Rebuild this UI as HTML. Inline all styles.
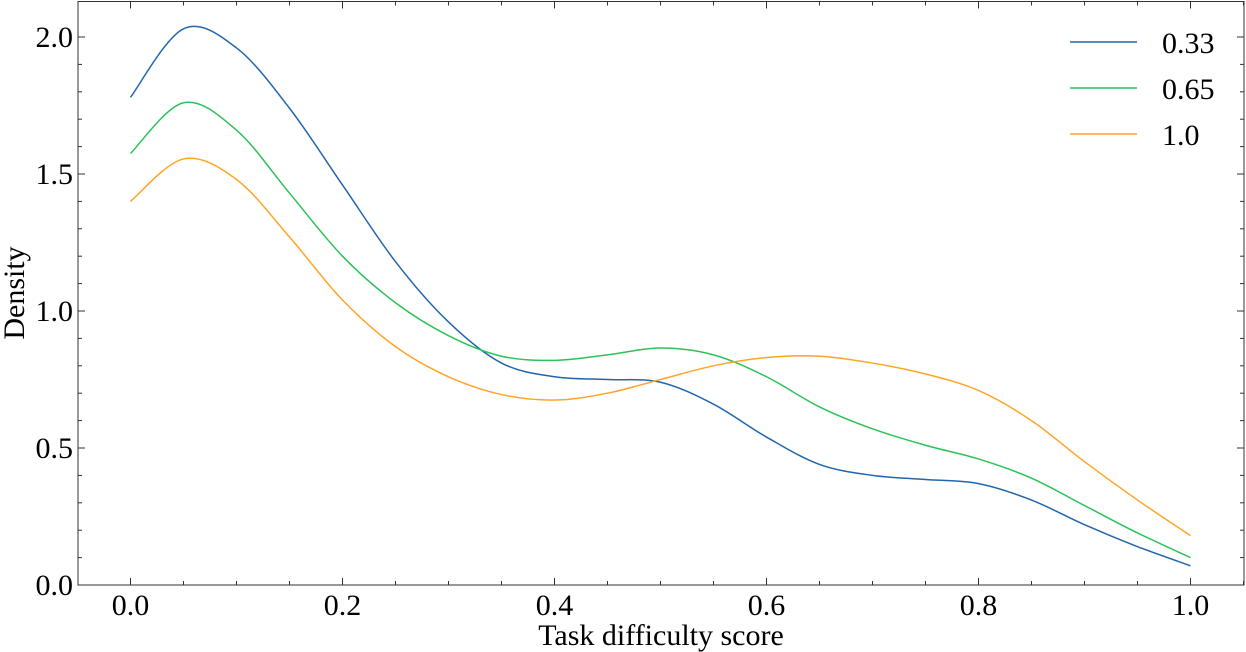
<!DOCTYPE html>
<html><head><meta charset="utf-8"><style>
html,body{margin:0;padding:0;background:#fff;}
svg{display:block;font-family:"Liberation Serif","DejaVu Serif",serif;}
</style></head><body>
<svg id="chart" width="1246" height="652" viewBox="0 0 1246 652">
<g id="plot"></g>
</svg>
<script>
const xs=[0,0.05,0.1,0.15,0.2,0.25,0.3,0.35,0.4,0.45,0.5,0.55,0.6,0.65,0.7,0.75,0.8,0.85,0.9,0.95,1.0];
const series033=[1.78,2.03,1.96,1.74,1.46,1.18,0.96,0.81,0.76,0.75,0.74,0.66,0.54,0.44,0.40,0.385,0.37,0.31,0.22,0.14,0.07];
const series065=[1.575,1.76,1.66,1.43,1.20,1.03,0.91,0.835,0.82,0.84,0.865,0.84,0.76,0.65,0.57,0.51,0.46,0.39,0.29,0.19,0.1];
const series100=[1.40,1.555,1.48,1.27,1.04,0.87,0.76,0.695,0.675,0.70,0.75,0.80,0.83,0.835,0.81,0.77,0.71,0.60,0.45,0.31,0.18];
const seriesNames=["0.33","0.65","1.0"];
const xTicks=[0,0.2,0.4,0.6,0.8,1.0];
const yTicks=[0,0.5,1.0,1.5,2.0];

const NS="http://www.w3.org/2000/svg";
const L=78,R=1244,T=1.5,B=585;
const X=v=>130.5+v*1060;
const Y=v=>585-v*274;
const g=document.getElementById('plot');
function mk(tag,attrs,parent){const e=document.createElementNS(NS,tag);for(const k in attrs)e.setAttribute(k,attrs[k]);(parent||g).appendChild(e);return e;}

for(let v=-0.05;v<=1.051;v+=0.05){const x=X(v);if(x<L||x>R)continue;
 const major=Math.abs(v/0.2-Math.round(v/0.2))<1e-6;const len=major?7:4;
 const t=mk('line',{x1:x,x2:x,y1:B,y2:B-len,stroke:'#333','stroke-width':1});
 
 const t2=mk('line',{x1:x,x2:x,y1:T,y2:T+len,stroke:'#333','stroke-width':1});
 }
for(let v=0;v<=2.1;v+=0.1){const y=Y(v);if(y<T)continue;
 const major=Math.abs(v/0.5-Math.round(v/0.5))<1e-6;const len=major?7:4;
 const t=mk('line',{x1:L,x2:L+len,y1:y,y2:y,stroke:'#333','stroke-width':1});
 
 const t2=mk('line',{x1:R,x2:R-len,y1:y,y2:y,stroke:'#333','stroke-width':1});
 }
xTicks.forEach(v=>{const t=mk('text',{x:X(v),y:615,'text-anchor':'middle','font-size':30});t.textContent=v.toFixed(1);
 });
yTicks.forEach(v=>{const t=mk('text',{x:73,y:Y(v)+10,'text-anchor':'end','font-size':30});t.textContent=v.toFixed(1);
 });

function pathFor(ys){const p=xs.map((x,i)=>[X(x),Y(ys[i])]);let d=`M${p[0][0]},${p[0][1]}`;
 for(let i=0;i<p.length-1;i++){const p0=p[Math.max(0,i-1)],p1=p[i],p2=p[i+1],p3=p[Math.min(p.length-1,i+2)];
  const c1=[p1[0]+(p2[0]-p0[0])/6,p1[1]+(p2[1]-p0[1])/6],c2=[p2[0]-(p3[0]-p1[0])/6,p2[1]-(p3[1]-p1[1])/6];
  d+=`C${c1[0]},${c1[1]} ${c2[0]},${c2[1]} ${p2[0]},${p2[1]}`;}return d;}
const colors=['#2166ac','#2bc257','#ffa526'];
[series033,series065,series100].forEach((s,i)=>{const p=mk('path',{d:pathFor(s),fill:'none',stroke:colors[i],'stroke-width':1.5});
 
 const ly=42+i*46;
 const ll=mk('line',{x1:1070,x2:1137,y1:ly,y2:ly,stroke:colors[i],'stroke-width':1.5});
 
 const lt=mk('text',{x:1162,y:ly+11,'font-size':30});lt.textContent=seriesNames[i];
 });

const frame=mk('rect',{x:L,y:T,width:R-L,height:B-T,fill:'none',stroke:'#333','stroke-width':1});

const xt=mk('text',{x:661,y:645,'text-anchor':'middle','font-size':30});xt.textContent='Task difficulty score';

const yt=mk('text',{x:0,y:0,'text-anchor':'middle','font-size':30,transform:'translate(24,293) rotate(-90)'});yt.textContent='Density';

</script>
</body></html>
